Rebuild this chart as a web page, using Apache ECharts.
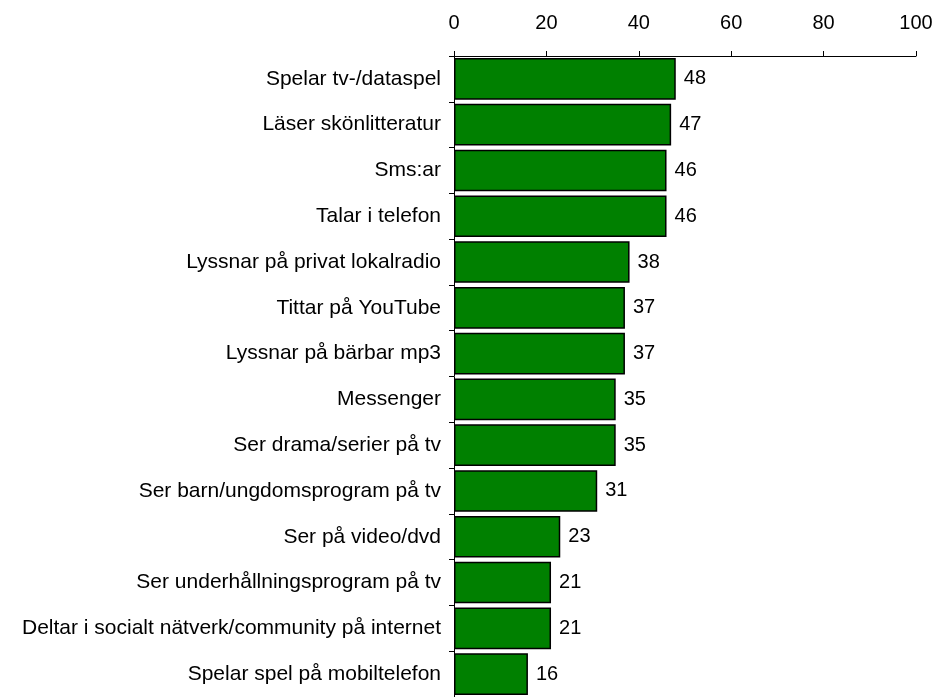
<!DOCTYPE html>
<html>
<head>
<meta charset="utf-8">
<script src="https://cdn.jsdelivr.net/npm/echarts@6/dist/echarts.min.js"></script>
<style>
html,body{margin:0;padding:0;background:#fff;}
#chart{width:936px;height:697px;}
</style>
</head>
<body>
<div id="chart"></div>
<script>
// Activities, top to bottom
const activities = [
  'Spelar tv-/dataspel',
  'Läser skönlitteratur',
  'Sms:ar',
  'Talar i telefon',
  'Lyssnar på privat lokalradio',
  'Tittar på YouTube',
  'Lyssnar på bärbar mp3',
  'Messenger',
  'Ser drama/serier på tv',
  'Ser barn/ungdomsprogram på tv',
  'Ser på video/dvd',
  'Ser underhållningsprogram på tv',
  'Deltar i socialt nätverk/community på internet',
  'Spelar spel på mobiltelefon'
];
// Share (percent)
const shares = [48, 47, 46, 46, 38, 37, 37, 35, 35, 31, 23, 21, 21, 16];
// Value axis range
const axisMin = 0, axisMax = 100, axisStep = 20;

const chart = echarts.init(document.getElementById('chart'), null, {renderer: 'canvas'});
const font = 'Liberation Sans, Arial, sans-serif';
chart.setOption({
  animation: false,
  backgroundColor: '#ffffff',
  grid: {left: 454, right: 20, top: 56, height: 647, containLabel: false},
  xAxis: {
    type: 'value', position: 'top', min: axisMin, max: axisMax, interval: axisStep,
    axisLine: {show: true, lineStyle: {color: '#000', width: 1}},
    axisTick: {show: true, length: 5, lineStyle: {color: '#000'}},
    splitLine: {show: false},
    axisLabel: {color: '#000', fontSize: 20, fontFamily: font, margin: 23}
  },
  yAxis: {
    type: 'category', data: activities, inverse: true,
    axisLine: {show: true, lineStyle: {color: '#000', width: 1}},
    axisTick: {show: true, length: 5, alignWithLabel: false, lineStyle: {color: '#000'}},
    axisLabel: {color: '#000', fontSize: 21, fontFamily: font, margin: 13}
  },
  series: [{
    type: 'bar', data: shares, barCategoryGap: '9%',
    itemStyle: {color: '#008000', borderColor: '#000', borderWidth: 1.5},
    label: {show: true, position: 'right', distance: 8, color: '#000', fontSize: 20, fontFamily: font}
  }]
});
</script>
</body>
</html>
